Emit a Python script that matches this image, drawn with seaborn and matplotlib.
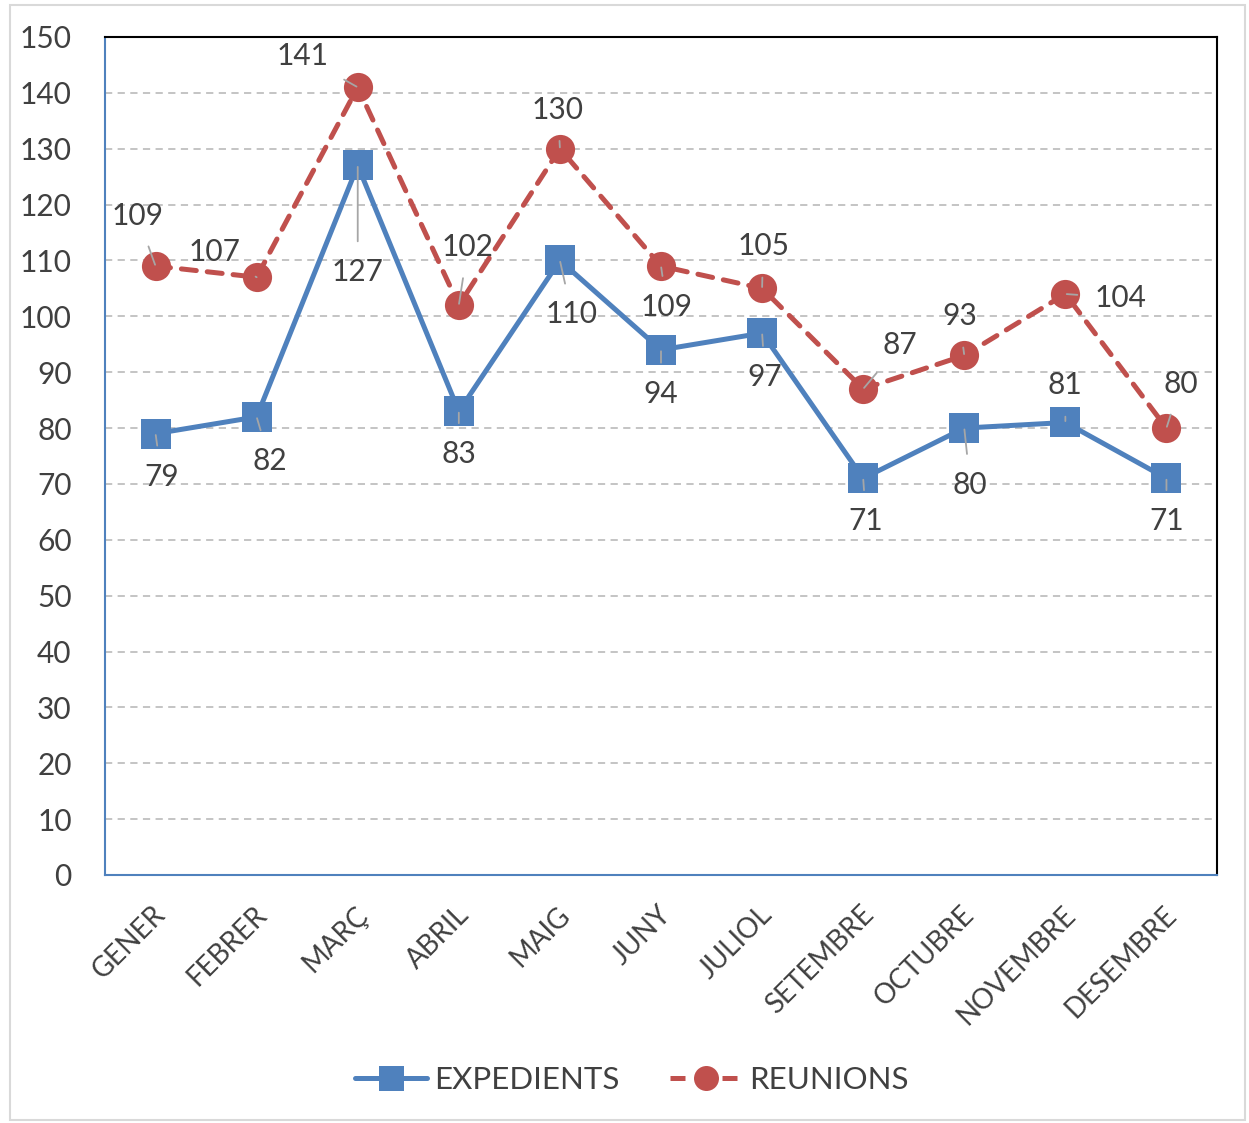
import matplotlib
matplotlib.use("Agg")
import matplotlib.pyplot as plt
import seaborn as sns
import pandas as pd
from matplotlib.lines import Line2D
from matplotlib.patches import Rectangle
from matplotlib.transforms import ScaledTranslation

months = ["GENER", "FEBRER", "MARÇ", "ABRIL", "MAIG", "JUNY", "JULIOL",
          "SETEMBRE", "OCTUBRE", "NOVEMBRE", "DESEMBRE"]
expedients = [79, 82, 127, 83, 110, 94, 97, 71, 80, 81, 71]
reunions = [109, 107, 141, 102, 130, 109, 105, 87, 93, 104, 80]
yticks = list(range(0, 151, 10))

# label offsets in pixels (style only)
exp_off = [(6, -43), (13, -44), (0, -107), (0, -43), (12, -54), (0, -44), (3, -44),
           (3, -43), (6, -57), (0, 37), (0, -43)]
reu_off = [(-18, 50), (-42, 25), (-55, 31), (9, 58), (-2, 39), (6, -41), (1, 42),
           (37, 44), (-5, 39), (55, -4), (14, 44)]

BLUE = "#4F81BD"
RED = "#C0504D"
TXT = "#404040"
FS = 21.5

sns.set_theme(style="white")
plt.rcParams["font.family"] = ["Lato", "DejaVu Sans"]

df = pd.DataFrame({"x": range(len(months)), "EXPEDIENTS": expedients, "REUNIONS": reunions})

fig = plt.figure(figsize=(12.49, 11.23), dpi=100)
ax = fig.add_axes([105 / 1249, 1 - 875 / 1123, (1217 - 105) / 1249, (875 - 37) / 1123])

sns.lineplot(data=df, x="x", y="EXPEDIENTS", ax=ax, color=BLUE, lw=3.6,
             marker="s", markersize=22, markeredgewidth=0, zorder=3)
sns.lineplot(data=df, x="x", y="REUNIONS", ax=ax, color=RED, lw=3.6,
             linestyle=(0, (3, 2.2)), dash_capstyle="round",
             marker="o", markersize=21, markeredgewidth=0, zorder=4)

ax.set_xlim(-0.5, len(months) - 0.5)
ax.set_ylim(0, 150)
ax.set_yticks(yticks)
ax.set_xticks(range(len(months)))
ax.set_xticklabels(months, rotation=45, ha="right", rotation_mode="anchor")
ax.set_xlabel("")
ax.set_ylabel("")
ax.tick_params(axis="y", length=0, pad=24, labelsize=FS, labelcolor=TXT)
ax.tick_params(axis="x", length=0, pad=19, labelsize=20, labelcolor=TXT)
shift = ScaledTranslation(-3 / 100, 0, fig.dpi_scale_trans)
for t in ax.get_xticklabels():
    t.set_transform(t.get_transform() + shift)

for y in yticks[1:-1]:
    ax.axhline(y, color="#BFBFBF", lw=1.3, linestyle=(0, (4, 3)), zorder=1)

ax.spines["left"].set_color(BLUE)
ax.spines["bottom"].set_color(BLUE)
ax.spines["top"].set_color("black")
ax.spines["right"].set_color("black")
for s in ax.spines.values():
    s.set_linewidth(1.5)

def label(vals, offs):
    for i, (v, (dx, dy)) in enumerate(zip(vals, offs)):
        ax.annotate(str(v), xy=(i, v), xytext=(dx, dy), textcoords="offset pixels",
                    ha="center", va="center", fontsize=FS, color=TXT, zorder=6,
                    arrowprops=dict(arrowstyle="-", color="#A6A6A6", lw=1.3,
                                    shrinkA=10, shrinkB=1))

label(expedients, exp_off)
label(reunions, reu_off)

handles = [
    Line2D([], [], color=BLUE, lw=3.6, marker="s", markersize=18, markeredgewidth=0),
    Line2D([], [], color=RED, lw=3.6, linestyle=(0, (3, 2.2)), marker="o",
           markersize=18, markeredgewidth=0),
]
leg = fig.legend(handles, ["EXPEDIENTS", "REUNIONS"], loc="center",
                 bbox_to_anchor=(0.506, 1 - 1080 / 1123), ncol=2, frameon=False,
                 fontsize=22.5, handlelength=2.3, columnspacing=1.6, handletextpad=0.25)
for t in leg.get_texts():
    t.set_color(TXT)

fig.patches.append(Rectangle((10 / 1249, 3 / 1123), 1235 / 1249, 1115 / 1123,
                             transform=fig.transFigure, fill=False,
                             edgecolor="#D9D9D9", lw=1.5))

fig.savefig("out.png", dpi=100)
